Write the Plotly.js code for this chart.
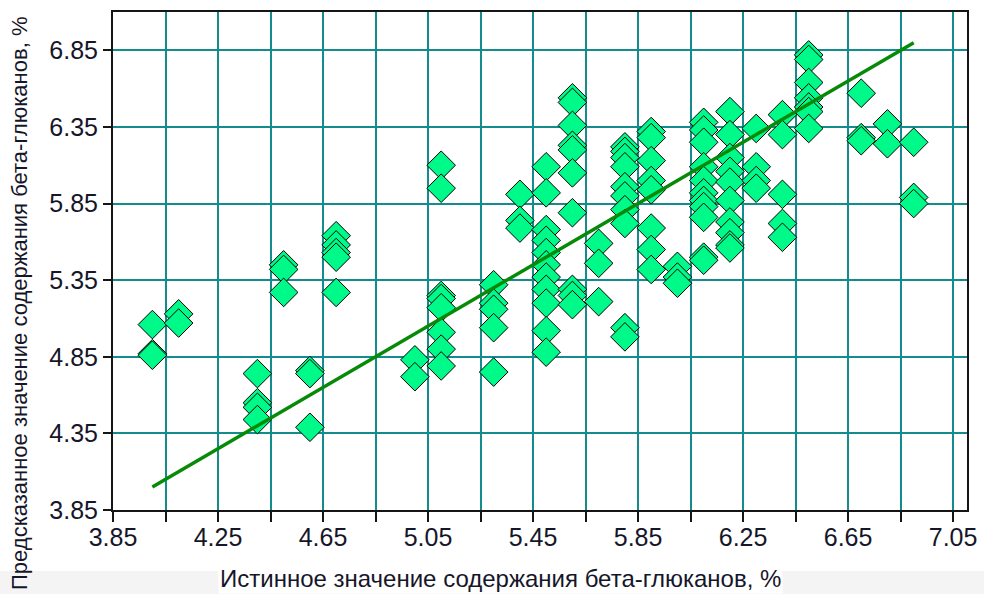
<!DOCTYPE html>
<html>
<head>
<meta charset="utf-8">
<script src="https://cdn.plot.ly/plotly-3.0.1.min.js"></script>
<style>
  html, body { margin: 0; padding: 0; background: #ffffff; }
  #chart { width: 984px; height: 594px; }
</style>
</head>
<body>
<div id="chart"></div>
<script>
// True (reference) beta-glucan content, %, one entry per sample
const trueValues = [
  4.00, 4.00, 4.00,
  4.10, 4.10,
  4.40, 4.40, 4.40, 4.40,
  4.50, 4.50, 4.50,
  4.60, 4.60, 4.60,
  4.70, 4.70, 4.70, 4.70, 4.70,
  5.00, 5.00,
  5.10, 5.10, 5.10, 5.10, 5.10, 5.10, 5.10, 5.10,
  5.30, 5.30, 5.30, 5.30, 5.30,
  5.40, 5.40, 5.40,
  5.50, 5.50, 5.50, 5.50, 5.50, 5.50, 5.50, 5.50, 5.50, 5.50, 5.50,
  5.60, 5.60, 5.60, 5.60, 5.60, 5.60, 5.60, 5.60, 5.60, 5.60,
  5.70, 5.70, 5.70,
  5.80, 5.80, 5.80, 5.80, 5.80, 5.80, 5.80, 5.80, 5.80, 5.80,
  5.90, 5.90, 5.90, 5.90, 5.90, 5.90, 5.90, 5.90,
  6.00, 6.00, 6.00,
  6.10, 6.10, 6.10, 6.10, 6.10, 6.10, 6.10, 6.10, 6.10, 6.10, 6.10,
  6.20, 6.20, 6.20, 6.20, 6.20, 6.20, 6.20, 6.20, 6.20, 6.20,
  6.30, 6.30, 6.30, 6.30,
  6.40, 6.40, 6.40, 6.40, 6.40,
  6.50, 6.50, 6.50, 6.50, 6.50, 6.50, 6.50,
  6.70, 6.70, 6.70,
  6.80, 6.80,
  6.90, 6.90, 6.90
];

// Predicted beta-glucan content, %, same order as trueValues
const predictedValues = [
  5.06, 4.87, 4.86,
  5.13, 5.07,
  4.74, 4.55, 4.52, 4.44,
  5.45, 5.42, 5.27,
  4.76, 4.74, 4.39,
  5.64, 5.58, 5.53, 5.50, 5.27,
  4.83, 4.72,
  6.10, 5.95, 5.25, 5.23, 5.17, 5.01, 4.90, 4.79,
  5.32, 5.20, 5.16, 5.04, 4.75,
  5.91, 5.74, 5.69,
  6.09, 5.92, 5.68, 5.61, 5.53, 5.45, 5.37, 5.29, 5.20, 5.02, 4.88,
  6.54, 6.51, 6.36, 6.23, 6.20, 6.05, 5.79, 5.29, 5.25, 5.19,
  5.59, 5.46, 5.21,
  6.22, 6.19, 6.15, 6.09, 5.96, 5.90, 5.81, 5.72, 5.04, 4.98,
  6.32, 6.28, 6.13, 6.00, 5.94, 5.69, 5.55, 5.42,
  5.44, 5.37, 5.33,
  6.38, 6.33, 6.25, 6.09, 6.00, 5.92, 5.87, 5.83, 5.76, 5.50, 5.48,
  6.45, 6.30, 6.15, 6.06, 5.99, 5.87, 5.73, 5.66, 5.58, 5.56,
  6.34, 6.09, 6.00, 5.95,
  6.43, 6.30, 5.91, 5.72, 5.63,
  6.82, 6.79, 6.64, 6.54, 6.48, 6.45, 6.34,
  6.57, 6.28, 6.26,
  6.37, 6.24,
  6.25, 5.89, 5.85
];

// Ideal-agreement line (predicted = true) over the sampled range
const lineX = [4.00, 6.90];
const lineY = [4.00, 6.90];

// Axis labels
const xTitle = 'Истинное значение содержания бета-глюканов, %';
const yTitle = 'Предсказанное значение содержания бета-глюканов, %';

const fontFamily = '"Liberation Sans", Arial, sans-serif';
const textColor = '#16162a';
const gridColor = '#128c8c';
const axisColor = '#151515';

const traces = [
  {
    type: 'scatter',
    mode: 'markers',
    x: trueValues,
    y: predictedValues,
    marker: {
      symbol: 'diamond',
      size: 22,
      color: '#00fa8a',
      line: { color: '#000000', width: 1 }
    },
    hoverinfo: 'x+y',
    showlegend: false
  },
  {
    type: 'scatter',
    mode: 'lines',
    x: lineX,
    y: lineY,
    line: { color: '#078a07', width: 3.5 },
    hoverinfo: 'skip',
    showlegend: false
  }
];

const layout = {
  width: 984,
  height: 594,
  margin: { l: 113, r: 17, t: 12, b: 84, pad: 0 },
  paper_bgcolor: '#ffffff',
  plot_bgcolor: '#ffffff',
  showlegend: false,
  xaxis: {
    range: [3.85, 7.103],
    tickmode: 'linear',
    tick0: 3.85,
    dtick: 0.4,
    tickformat: '.2f',
    ticks: 'outside',
    ticklen: 10,
    tickwidth: 2,
    tickcolor: axisColor,
    ticklabelstandoff: -6,
    showgrid: true,
    gridcolor: gridColor,
    gridwidth: 2,
    minor: {
      tick0: 3.85,
      dtick: 0.2,
      ticks: 'outside',
      ticklen: 10,
      tickwidth: 2,
      tickcolor: axisColor,
      showgrid: true,
      gridcolor: gridColor,
      gridwidth: 2
    },
    zeroline: false,
    showline: true,
    linecolor: axisColor,
    linewidth: 2,
    mirror: true,
    tickfont: { family: fontFamily, size: 25, color: textColor },
    fixedrange: true
  },
  yaxis: {
    range: [3.85, 7.10],
    tickmode: 'linear',
    tick0: 3.85,
    dtick: 0.5,
    tickformat: '.2f',
    ticks: 'outside',
    ticklen: 8,
    tickwidth: 2,
    tickcolor: axisColor,
    showgrid: true,
    gridcolor: gridColor,
    gridwidth: 2,
    zeroline: false,
    showline: true,
    linecolor: axisColor,
    linewidth: 2,
    mirror: true,
    tickfont: { family: fontFamily, size: 25, color: textColor },
    fixedrange: true
  },
  shapes: [
    {
      type: 'rect', xref: 'paper', yref: 'paper',
      x0: -0.14, x1: 1.03, y0: -0.1687, y1: -0.1225,
      fillcolor: '#f4f4f4', line: { width: 0 }, layer: 'below'
    }
  ],
  annotations: [
    {
      text: xTitle,
      xref: 'paper', yref: 'paper',
      x: (500 - 113) / 854, y: -(578 - 510) / 498,
      xanchor: 'center', yanchor: 'middle',
      showarrow: false,
      bgcolor: '#ffffff',
      font: { family: fontFamily, size: 24, color: textColor }
    },
    {
      text: yTitle,
      xref: 'paper', yref: 'paper',
      x: -(113 - 19) / 854, y: (510 - 304) / 498,
      xanchor: 'center', yanchor: 'middle',
      textangle: -90,
      showarrow: false,
      font: { family: fontFamily, size: 22, color: textColor }
    }
  ]
};

Plotly.newPlot('chart', traces, layout, { displayModeBar: false, staticPlot: true });
</script>
</body>
</html>
